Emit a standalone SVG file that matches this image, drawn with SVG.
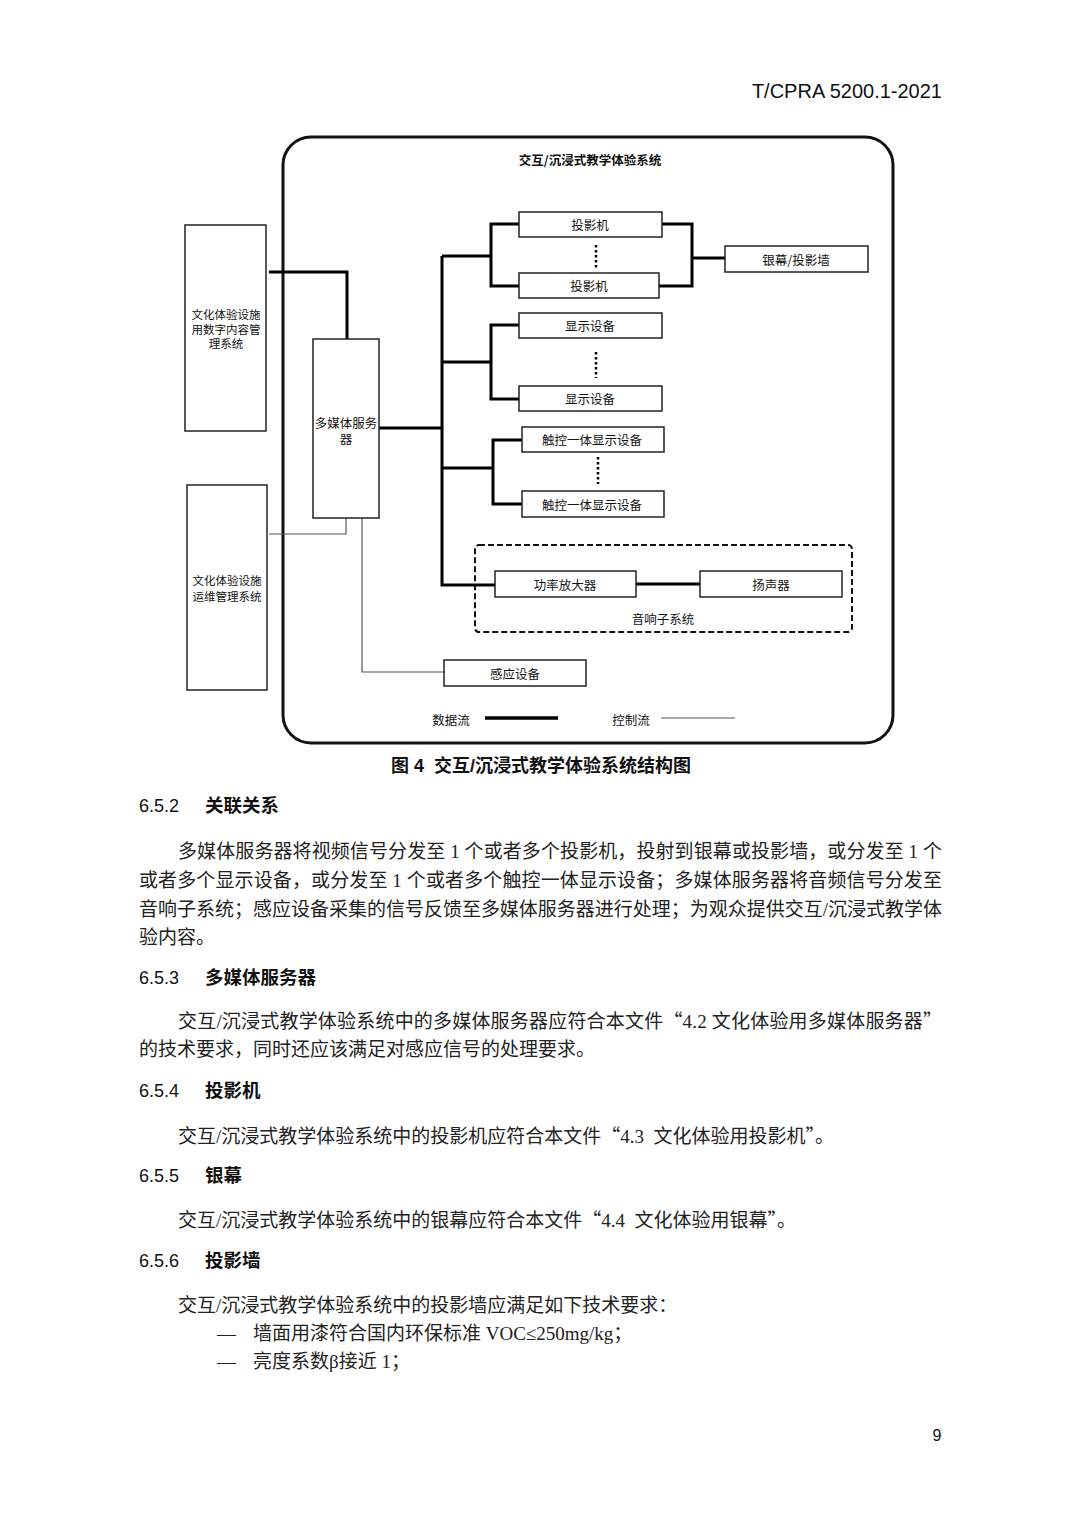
<svg xmlns="http://www.w3.org/2000/svg" width="1080" height="1528" viewBox="0 0 1080 1528">
<style>
.t{font-family:"Noto Sans CJK SC","Noto Sans",sans-serif;font-size:12.5px;fill:#111;text-anchor:middle;dominant-baseline:central}
.s{font-size:11.5px}
.box{fill:#fff;stroke:#222;stroke-width:1.5}
.data{fill:none;stroke:#000;stroke-width:3}
.ctrl{fill:none;stroke:#555;stroke-width:1.2}
.dots{stroke:#000;stroke-width:2.5;stroke-dasharray:2.5 2.5}
.body{font-family:"Liberation Serif","Noto Sans CJK SC",serif;font-size:19px;fill:#222}
.q{font-family:"Noto Sans CJK SC",sans-serif}
.hn{font-family:"Liberation Sans",sans-serif;font-size:18px;fill:#111}
.hc{font-family:"Noto Sans CJK SC",sans-serif;font-size:18.5px;font-weight:bold;fill:#111}
</style>
<rect width="1080" height="1528" fill="#fff"/>
<text x="942" y="98" text-anchor="end" font-family="Liberation Sans, sans-serif" font-size="20" fill="#111">T/CPRA 5200.1-2021</text>

<g id="frame">
<rect x="283" y="137" width="610" height="606" rx="28" fill="none" stroke="#111" stroke-width="3"/>
<text class="t" x="590" y="159" font-weight="bold">交互/沉浸式教学体验系统</text>
</g>

<g id="connectors">
<path class="data" d="M269 272 H347 V339"/>
<path class="data" d="M379 428 H442"/>
<path class="data" d="M442 256 V585 H495"/>
<path class="data" d="M442 256 H491"/>
<path class="data" d="M519 224 H491 V286 H519"/>
<path class="data" d="M662 224 H692 V286 H659"/>
<path class="data" d="M692 258 H725"/>
<path class="data" d="M442 362 H491"/>
<path class="data" d="M519 325 H491 V399 H519"/>
<path class="data" d="M442 468 H493"/>
<path class="data" d="M522 440 H493 V504 H522"/>
<path class="data" d="M636 584 H700"/>
<path class="ctrl" d="M269 534 H346 V518"/>
<path class="ctrl" d="M362 518 V672 H444"/>
<line class="dots" x1="596" y1="245" x2="596" y2="269"/>
<line class="dots" x1="596" y1="352" x2="596" y2="378"/>
<line class="dots" x1="598" y1="457" x2="598" y2="484"/>
</g>

<g id="cms">
<rect class="box" x="185" y="225" width="81" height="206"/>
<text class="t s" x="226" y="314">文化体验设施<tspan x="226" dy="14.5">用数字内容管</tspan><tspan x="226" dy="14.5">理系统</tspan></text>
</g>
<g id="ops">
<rect class="box" x="187" y="485" width="80" height="205"/>
<text class="t s" x="227" y="580">文化体验设施<tspan x="227" dy="15.5">运维管理系统</tspan></text>
</g>
<g id="server">
<rect class="box" x="313" y="339" width="66" height="179"/>
<text class="t" x="346" y="422">多媒体服务<tspan x="346" dy="16">器</tspan></text>
</g>
<g id="projector1">
<rect class="box" x="519" y="212" width="143" height="25"/>
<text class="t" x="590" y="224.5">投影机</text>
</g>
<g id="projector2">
<rect class="box" x="519" y="273" width="140" height="25"/>
<text class="t" x="589" y="285.5">投影机</text>
</g>
<g id="screen">
<rect class="box" x="725" y="246" width="143" height="26"/>
<text class="t" x="796" y="259">银幕/投影墙</text>
</g>
<g id="display1">
<rect class="box" x="519" y="313" width="143" height="25"/>
<text class="t" x="590" y="325.5">显示设备</text>
</g>
<g id="display2">
<rect class="box" x="519" y="386" width="143" height="25"/>
<text class="t" x="590" y="398.5">显示设备</text>
</g>
<g id="touch1">
<rect class="box" x="522" y="427" width="142" height="25"/>
<text class="t" x="592" y="439.5">触控一体显示设备</text>
</g>
<g id="touch2">
<rect class="box" x="522" y="491" width="142" height="26"/>
<text class="t" x="592" y="504">触控一体显示设备</text>
</g>
<g id="audio-subsystem">
<rect x="475" y="545" width="377" height="87" rx="4" fill="none" stroke="#111" stroke-width="2" stroke-dasharray="6 3"/>
<text class="t" x="663" y="618">音响子系统</text>
</g>
<g id="amplifier">
<rect class="box" x="495" y="571" width="141" height="26"/>
<text class="t" x="565" y="584">功率放大器</text>
</g>
<g id="speaker">
<rect class="box" x="700" y="571" width="142" height="26"/>
<text class="t" x="771" y="584">扬声器</text>
</g>
<g id="sensor">
<rect class="box" x="444" y="660" width="142" height="26"/>
<text class="t" x="515" y="673">感应设备</text>
</g>
<g id="legend">
<text class="t" x="451" y="719">数据流</text>
<line x1="485" y1="718" x2="558" y2="718" stroke="#000" stroke-width="3.5"/>
<text class="t" x="631" y="719">控制流</text>
<line x1="661" y1="718" x2="735" y2="718" stroke="#555" stroke-width="1.2"/>
</g>

<text x="541" y="772" text-anchor="middle" xml:space="preserve" font-family="Liberation Sans, Noto Sans CJK SC, sans-serif" font-size="18" font-weight="bold" fill="#111">图 4  交互/沉浸式教学体验系统结构图</text>

<text class="hn" x="139" y="812">6.5.2</text><text class="hc" x="205" y="812">关联关系</text>
<text class="body" x="178" y="858" textLength="764" lengthAdjust="spacing">多媒体服务器将视频信号分发至 1 个或者多个投影机，投射到银幕或投影墙，或分发至 1 个</text>
<text class="body" x="139" y="887" textLength="803" lengthAdjust="spacing">或者多个显示设备，或分发至 1 个或者多个触控一体显示设备；多媒体服务器将音频信号分发至</text>
<text class="body" x="139" y="916" textLength="803" lengthAdjust="spacing">音响子系统；感应设备采集的信号反馈至多媒体服务器进行处理；为观众提供交互/沉浸式教学体</text>
<text class="body" x="139" y="944">验内容。</text>

<text class="hn" x="139" y="984">6.5.3</text><text class="hc" x="205" y="984">多媒体服务器</text>
<text class="body" x="178" y="1028" textLength="764" lengthAdjust="spacing">交互/沉浸式教学体验系统中的多媒体服务器应符合本文件<tspan class="q">“</tspan>4.2  文化体验用多媒体服务器<tspan class="q">”</tspan></text>
<text class="body" x="139" y="1056">的技术要求，同时还应该满足对感应信号的处理要求。</text>

<text class="hn" x="139" y="1097">6.5.4</text><text class="hc" x="205" y="1097">投影机</text>
<text class="body" x="178" y="1143" xml:space="preserve">交互/沉浸式教学体验系统中的投影机应符合本文件<tspan class="q">“</tspan>4.3  文化体验用投影机<tspan class="q">”</tspan>。</text>

<text class="hn" x="139" y="1182">6.5.5</text><text class="hc" x="205" y="1182">银幕</text>
<text class="body" x="178" y="1227" xml:space="preserve">交互/沉浸式教学体验系统中的银幕应符合本文件<tspan class="q">“</tspan>4.4  文化体验用银幕<tspan class="q">”</tspan>。</text>

<text class="hn" x="139" y="1267">6.5.6</text><text class="hc" x="205" y="1267">投影墙</text>
<text class="body" x="178" y="1312">交互/沉浸式教学体验系统中的投影墙应满足如下技术要求：</text>
<text class="body" x="217" y="1340">—</text><text class="body" x="253" y="1340">墙面用漆符合国内环保标准 VOC≤250mg/kg；</text>
<text class="body" x="217" y="1368">—</text><text class="body" x="253" y="1368">亮度系数β接近 1；</text>

<text x="937" y="1441" text-anchor="middle" font-family="Liberation Sans, sans-serif" font-size="16" fill="#111">9</text>
</svg>
